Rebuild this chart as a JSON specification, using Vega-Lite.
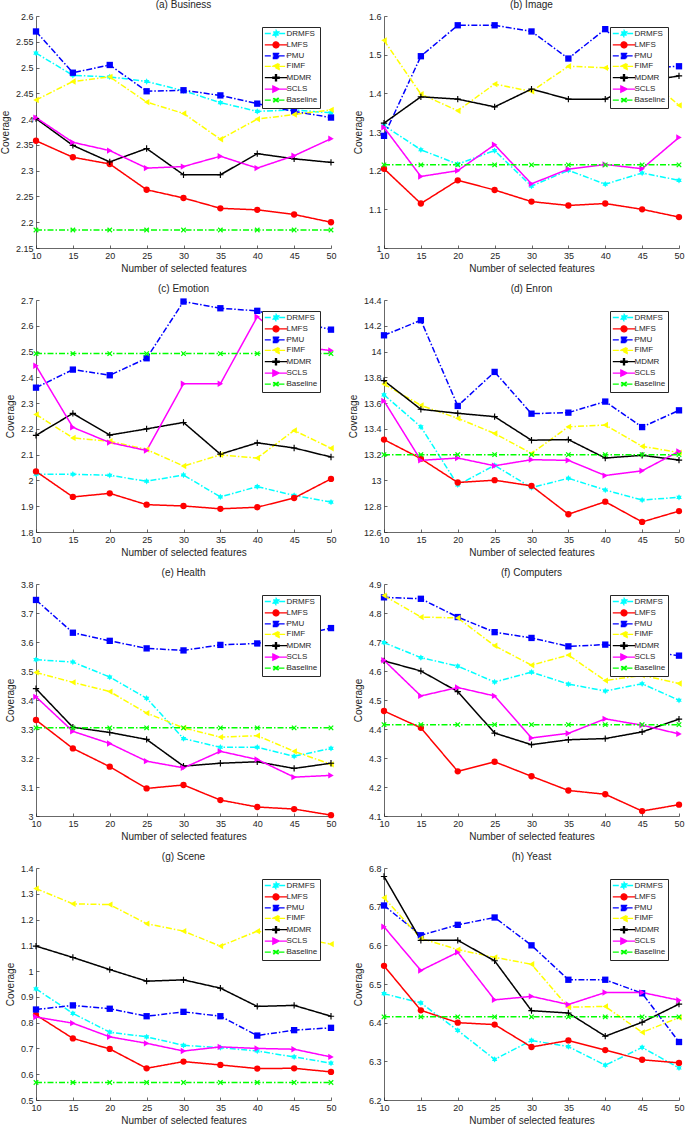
{
"$schema": "https://vega.github.io/schema/vega-lite/v6.json",
"padding": {"left": 0, "top": 0, "right": 0, "bottom": 0},
"config": {
 "font": "Liberation Sans",
 "view": {"stroke": null},
 "axis": {"grid": false, "labelFontSize": 9, "labelColor": "#262626", "titleFontSize": 10, "titleFontWeight": "normal", "titleColor": "#262626", "domainColor": "#262626", "tickColor": "#262626", "tickSize": -3, "labelPadding": 6, "domainWidth": 0.7, "tickWidth": 0.7, "labelFlush": false, "labelOverlap": false},
 "axisY": {"titlePadding": 5},
 "axisX": {"titlePadding": 3},
 "title": {"fontSize": 10, "fontWeight": "normal", "color": "#262626", "offset": 2},
 "legend": {"orient": "top-right", "offset": 11, "fillColor": "white", "strokeColor": "#262626", "padding": 2, "labelFontSize": 8, "labelColor": "#262626", "symbolSize": 49, "symbolOffset": 7.5, "labelOffset": 6, "rowPadding": -1.6, "symbolStrokeWidth": 1.3}
},
"datasets": {
"a": [
{"m":"DRMFS","x":10,"y":2.528},{"m":"DRMFS","x":15,"y":2.485},{"m":"DRMFS","x":20,"y":2.482},{"m":"DRMFS","x":25,"y":2.473},{"m":"DRMFS","x":30,"y":2.455},{"m":"DRMFS","x":35,"y":2.432},{"m":"DRMFS","x":40,"y":2.415},{"m":"DRMFS","x":45,"y":2.418},{"m":"DRMFS","x":50,"y":2.412},
{"m":"LMFS","x":10,"y":2.358},{"m":"LMFS","x":15,"y":2.326},{"m":"LMFS","x":20,"y":2.313},{"m":"LMFS","x":25,"y":2.263},{"m":"LMFS","x":30,"y":2.247},{"m":"LMFS","x":35,"y":2.227},{"m":"LMFS","x":40,"y":2.224},{"m":"LMFS","x":45,"y":2.215},{"m":"LMFS","x":50,"y":2.2},
{"m":"PMU","x":10,"y":2.57},{"m":"PMU","x":15,"y":2.49},{"m":"PMU","x":20,"y":2.505},{"m":"PMU","x":25,"y":2.454},{"m":"PMU","x":30,"y":2.456},{"m":"PMU","x":35,"y":2.446},{"m":"PMU","x":40,"y":2.43},{"m":"PMU","x":45,"y":2.415},{"m":"PMU","x":50,"y":2.403},
{"m":"FIMF","x":10,"y":2.437},{"m":"FIMF","x":15,"y":2.473},{"m":"FIMF","x":20,"y":2.482},{"m":"FIMF","x":25,"y":2.433},{"m":"FIMF","x":30,"y":2.411},{"m":"FIMF","x":35,"y":2.361},{"m":"FIMF","x":40,"y":2.4},{"m":"FIMF","x":45,"y":2.409},{"m":"FIMF","x":50,"y":2.418},
{"m":"MDMR","x":10,"y":2.401},{"m":"MDMR","x":15,"y":2.349},{"m":"MDMR","x":20,"y":2.317},{"m":"MDMR","x":25,"y":2.343},{"m":"MDMR","x":30,"y":2.292},{"m":"MDMR","x":35,"y":2.292},{"m":"MDMR","x":40,"y":2.333},{"m":"MDMR","x":45,"y":2.323},{"m":"MDMR","x":50,"y":2.316},
{"m":"SCLS","x":10,"y":2.403},{"m":"SCLS","x":15,"y":2.355},{"m":"SCLS","x":20,"y":2.339},{"m":"SCLS","x":25,"y":2.305},{"m":"SCLS","x":30,"y":2.308},{"m":"SCLS","x":35,"y":2.328},{"m":"SCLS","x":40,"y":2.305},{"m":"SCLS","x":45,"y":2.329},{"m":"SCLS","x":50,"y":2.362},
{"m":"Baseline","x":10,"y":2.185},{"m":"Baseline","x":15,"y":2.185},{"m":"Baseline","x":20,"y":2.185},{"m":"Baseline","x":25,"y":2.185},{"m":"Baseline","x":30,"y":2.185},{"m":"Baseline","x":35,"y":2.185},{"m":"Baseline","x":40,"y":2.185},{"m":"Baseline","x":45,"y":2.185},{"m":"Baseline","x":50,"y":2.185}
],
"b": [
{"m":"DRMFS","x":10,"y":1.317},{"m":"DRMFS","x":15,"y":1.254},{"m":"DRMFS","x":20,"y":1.217},{"m":"DRMFS","x":25,"y":1.252},{"m":"DRMFS","x":30,"y":1.16},{"m":"DRMFS","x":35,"y":1.201},{"m":"DRMFS","x":40,"y":1.165},{"m":"DRMFS","x":45,"y":1.194},{"m":"DRMFS","x":50,"y":1.175},
{"m":"LMFS","x":10,"y":1.205},{"m":"LMFS","x":15,"y":1.115},{"m":"LMFS","x":20,"y":1.175},{"m":"LMFS","x":25,"y":1.15},{"m":"LMFS","x":30,"y":1.12},{"m":"LMFS","x":35,"y":1.11},{"m":"LMFS","x":40,"y":1.115},{"m":"LMFS","x":45,"y":1.1},{"m":"LMFS","x":50,"y":1.08},
{"m":"PMU","x":10,"y":1.29},{"m":"PMU","x":15,"y":1.496},{"m":"PMU","x":20,"y":1.576},{"m":"PMU","x":25,"y":1.576},{"m":"PMU","x":30,"y":1.56},{"m":"PMU","x":35,"y":1.49},{"m":"PMU","x":40,"y":1.566},{"m":"PMU","x":45,"y":1.465},{"m":"PMU","x":50,"y":1.47},
{"m":"FIMF","x":10,"y":1.537},{"m":"FIMF","x":15,"y":1.398},{"m":"FIMF","x":20,"y":1.355},{"m":"FIMF","x":25,"y":1.424},{"m":"FIMF","x":30,"y":1.405},{"m":"FIMF","x":35,"y":1.47},{"m":"FIMF","x":40,"y":1.466},{"m":"FIMF","x":45,"y":1.45},{"m":"FIMF","x":50,"y":1.369},
{"m":"MDMR","x":10,"y":1.323},{"m":"MDMR","x":15,"y":1.391},{"m":"MDMR","x":20,"y":1.385},{"m":"MDMR","x":25,"y":1.365},{"m":"MDMR","x":30,"y":1.411},{"m":"MDMR","x":35,"y":1.385},{"m":"MDMR","x":40,"y":1.385},{"m":"MDMR","x":45,"y":1.43},{"m":"MDMR","x":50,"y":1.445},
{"m":"SCLS","x":10,"y":1.312},{"m":"SCLS","x":15,"y":1.185},{"m":"SCLS","x":20,"y":1.2},{"m":"SCLS","x":25,"y":1.267},{"m":"SCLS","x":30,"y":1.166},{"m":"SCLS","x":35,"y":1.204},{"m":"SCLS","x":40,"y":1.216},{"m":"SCLS","x":45,"y":1.205},{"m":"SCLS","x":50,"y":1.286},
{"m":"Baseline","x":10,"y":1.215},{"m":"Baseline","x":15,"y":1.215},{"m":"Baseline","x":20,"y":1.215},{"m":"Baseline","x":25,"y":1.215},{"m":"Baseline","x":30,"y":1.215},{"m":"Baseline","x":35,"y":1.215},{"m":"Baseline","x":40,"y":1.215},{"m":"Baseline","x":45,"y":1.215},{"m":"Baseline","x":50,"y":1.215}
],
"c": [
{"m":"DRMFS","x":10,"y":2.024},{"m":"DRMFS","x":15,"y":2.024},{"m":"DRMFS","x":20,"y":2.02},{"m":"DRMFS","x":25,"y":1.997},{"m":"DRMFS","x":30,"y":2.021},{"m":"DRMFS","x":35,"y":1.936},{"m":"DRMFS","x":40,"y":1.976},{"m":"DRMFS","x":45,"y":1.942},{"m":"DRMFS","x":50,"y":1.916},
{"m":"LMFS","x":10,"y":2.035},{"m":"LMFS","x":15,"y":1.936},{"m":"LMFS","x":20,"y":1.95},{"m":"LMFS","x":25,"y":1.906},{"m":"LMFS","x":30,"y":1.901},{"m":"LMFS","x":35,"y":1.89},{"m":"LMFS","x":40,"y":1.896},{"m":"LMFS","x":45,"y":1.932},{"m":"LMFS","x":50,"y":2.006},
{"m":"PMU","x":10,"y":2.36},{"m":"PMU","x":15,"y":2.43},{"m":"PMU","x":20,"y":2.408},{"m":"PMU","x":25,"y":2.474},{"m":"PMU","x":30,"y":2.694},{"m":"PMU","x":35,"y":2.668},{"m":"PMU","x":40,"y":2.658},{"m":"PMU","x":45,"y":2.62},{"m":"PMU","x":50,"y":2.585},
{"m":"FIMF","x":10,"y":2.256},{"m":"FIMF","x":15,"y":2.165},{"m":"FIMF","x":20,"y":2.152},{"m":"FIMF","x":25,"y":2.12},{"m":"FIMF","x":30,"y":2.056},{"m":"FIMF","x":35,"y":2.099},{"m":"FIMF","x":40,"y":2.087},{"m":"FIMF","x":45,"y":2.194},{"m":"FIMF","x":50,"y":2.125},
{"m":"MDMR","x":10,"y":2.175},{"m":"MDMR","x":15,"y":2.26},{"m":"MDMR","x":20,"y":2.176},{"m":"MDMR","x":25,"y":2.2},{"m":"MDMR","x":30,"y":2.225},{"m":"MDMR","x":35,"y":2.102},{"m":"MDMR","x":40,"y":2.146},{"m":"MDMR","x":45,"y":2.126},{"m":"MDMR","x":50,"y":2.091},
{"m":"SCLS","x":10,"y":2.445},{"m":"SCLS","x":15,"y":2.206},{"m":"SCLS","x":20,"y":2.147},{"m":"SCLS","x":25,"y":2.116},{"m":"SCLS","x":30,"y":2.375},{"m":"SCLS","x":35,"y":2.375},{"m":"SCLS","x":40,"y":2.635},{"m":"SCLS","x":45,"y":2.52},{"m":"SCLS","x":50,"y":2.504},
{"m":"Baseline","x":10,"y":2.492},{"m":"Baseline","x":15,"y":2.492},{"m":"Baseline","x":20,"y":2.492},{"m":"Baseline","x":25,"y":2.492},{"m":"Baseline","x":30,"y":2.492},{"m":"Baseline","x":35,"y":2.492},{"m":"Baseline","x":40,"y":2.492},{"m":"Baseline","x":45,"y":2.492},{"m":"Baseline","x":50,"y":2.492}
],
"d": [
{"m":"DRMFS","x":10,"y":13.664},{"m":"DRMFS","x":15,"y":13.416},{"m":"DRMFS","x":20,"y":12.965},{"m":"DRMFS","x":25,"y":13.117},{"m":"DRMFS","x":30,"y":12.944},{"m":"DRMFS","x":35,"y":13.017},{"m":"DRMFS","x":40,"y":12.926},{"m":"DRMFS","x":45,"y":12.848},{"m":"DRMFS","x":50,"y":12.869},
{"m":"LMFS","x":10,"y":13.317},{"m":"LMFS","x":15,"y":13.169},{"m":"LMFS","x":20,"y":12.984},{"m":"LMFS","x":25,"y":13.002},{"m":"LMFS","x":30,"y":12.958},{"m":"LMFS","x":35,"y":12.738},{"m":"LMFS","x":40,"y":12.835},{"m":"LMFS","x":45,"y":12.678},{"m":"LMFS","x":50,"y":12.762},
{"m":"PMU","x":10,"y":14.126},{"m":"PMU","x":15,"y":14.243},{"m":"PMU","x":20,"y":13.578},{"m":"PMU","x":25,"y":13.842},{"m":"PMU","x":30,"y":13.518},{"m":"PMU","x":35,"y":13.526},{"m":"PMU","x":40,"y":13.612},{"m":"PMU","x":45,"y":13.414},{"m":"PMU","x":50,"y":13.544},
{"m":"FIMF","x":10,"y":13.748},{"m":"FIMF","x":15,"y":13.583},{"m":"FIMF","x":20,"y":13.482},{"m":"FIMF","x":25,"y":13.364},{"m":"FIMF","x":30,"y":13.21},{"m":"FIMF","x":35,"y":13.416},{"m":"FIMF","x":40,"y":13.43},{"m":"FIMF","x":45,"y":13.265},{"m":"FIMF","x":50,"y":13.216},
{"m":"MDMR","x":10,"y":13.774},{"m":"MDMR","x":15,"y":13.552},{"m":"MDMR","x":20,"y":13.521},{"m":"MDMR","x":25,"y":13.495},{"m":"MDMR","x":30,"y":13.312},{"m":"MDMR","x":35,"y":13.317},{"m":"MDMR","x":40,"y":13.174},{"m":"MDMR","x":45,"y":13.195},{"m":"MDMR","x":50,"y":13.158},
{"m":"SCLS","x":10,"y":13.617},{"m":"SCLS","x":15,"y":13.156},{"m":"SCLS","x":20,"y":13.174},{"m":"SCLS","x":25,"y":13.114},{"m":"SCLS","x":30,"y":13.161},{"m":"SCLS","x":35,"y":13.156},{"m":"SCLS","x":40,"y":13.038},{"m":"SCLS","x":45,"y":13.075},{"m":"SCLS","x":50,"y":13.226},
{"m":"Baseline","x":10,"y":13.2},{"m":"Baseline","x":15,"y":13.2},{"m":"Baseline","x":20,"y":13.2},{"m":"Baseline","x":25,"y":13.2},{"m":"Baseline","x":30,"y":13.2},{"m":"Baseline","x":35,"y":13.2},{"m":"Baseline","x":40,"y":13.2},{"m":"Baseline","x":45,"y":13.2},{"m":"Baseline","x":50,"y":13.2}
],
"e": [
{"m":"DRMFS","x":10,"y":3.539},{"m":"DRMFS","x":15,"y":3.531},{"m":"DRMFS","x":20,"y":3.479},{"m":"DRMFS","x":25,"y":3.406},{"m":"DRMFS","x":30,"y":3.267},{"m":"DRMFS","x":35,"y":3.237},{"m":"DRMFS","x":40,"y":3.237},{"m":"DRMFS","x":45,"y":3.206},{"m":"DRMFS","x":50,"y":3.233},
{"m":"LMFS","x":10,"y":3.331},{"m":"LMFS","x":15,"y":3.233},{"m":"LMFS","x":20,"y":3.17},{"m":"LMFS","x":25,"y":3.095},{"m":"LMFS","x":30,"y":3.107},{"m":"LMFS","x":35,"y":3.055},{"m":"LMFS","x":40,"y":3.031},{"m":"LMFS","x":45,"y":3.024},{"m":"LMFS","x":50,"y":3.003},
{"m":"PMU","x":10,"y":3.745},{"m":"PMU","x":15,"y":3.632},{"m":"PMU","x":20,"y":3.604},{"m":"PMU","x":25,"y":3.578},{"m":"PMU","x":30,"y":3.571},{"m":"PMU","x":35,"y":3.59},{"m":"PMU","x":40,"y":3.595},{"m":"PMU","x":45,"y":3.62},{"m":"PMU","x":50,"y":3.648},
{"m":"FIMF","x":10,"y":3.495},{"m":"FIMF","x":15,"y":3.461},{"m":"FIMF","x":20,"y":3.429},{"m":"FIMF","x":25,"y":3.355},{"m":"FIMF","x":30,"y":3.304},{"m":"FIMF","x":35,"y":3.272},{"m":"FIMF","x":40,"y":3.277},{"m":"FIMF","x":45,"y":3.223},{"m":"FIMF","x":50,"y":3.178},
{"m":"MDMR","x":10,"y":3.439},{"m":"MDMR","x":15,"y":3.306},{"m":"MDMR","x":20,"y":3.288},{"m":"MDMR","x":25,"y":3.264},{"m":"MDMR","x":30,"y":3.172},{"m":"MDMR","x":35,"y":3.182},{"m":"MDMR","x":40,"y":3.187},{"m":"MDMR","x":45,"y":3.164},{"m":"MDMR","x":50,"y":3.182},
{"m":"SCLS","x":10,"y":3.411},{"m":"SCLS","x":15,"y":3.292},{"m":"SCLS","x":20,"y":3.25},{"m":"SCLS","x":25,"y":3.189},{"m":"SCLS","x":30,"y":3.166},{"m":"SCLS","x":35,"y":3.223},{"m":"SCLS","x":40,"y":3.195},{"m":"SCLS","x":45,"y":3.134},{"m":"SCLS","x":50,"y":3.14},
{"m":"Baseline","x":10,"y":3.304},{"m":"Baseline","x":15,"y":3.304},{"m":"Baseline","x":20,"y":3.304},{"m":"Baseline","x":25,"y":3.304},{"m":"Baseline","x":30,"y":3.304},{"m":"Baseline","x":35,"y":3.304},{"m":"Baseline","x":40,"y":3.304},{"m":"Baseline","x":45,"y":3.304},{"m":"Baseline","x":50,"y":3.304}
],
"f": [
{"m":"DRMFS","x":10,"y":4.698},{"m":"DRMFS","x":15,"y":4.646},{"m":"DRMFS","x":20,"y":4.617},{"m":"DRMFS","x":25,"y":4.562},{"m":"DRMFS","x":30,"y":4.596},{"m":"DRMFS","x":35,"y":4.555},{"m":"DRMFS","x":40,"y":4.531},{"m":"DRMFS","x":45,"y":4.556},{"m":"DRMFS","x":50,"y":4.499},
{"m":"LMFS","x":10,"y":4.462},{"m":"LMFS","x":15,"y":4.404},{"m":"LMFS","x":20,"y":4.254},{"m":"LMFS","x":25,"y":4.287},{"m":"LMFS","x":30,"y":4.237},{"m":"LMFS","x":35,"y":4.188},{"m":"LMFS","x":40,"y":4.175},{"m":"LMFS","x":45,"y":4.117},{"m":"LMFS","x":50,"y":4.139},
{"m":"PMU","x":10,"y":4.854},{"m":"PMU","x":15,"y":4.849},{"m":"PMU","x":20,"y":4.786},{"m":"PMU","x":25,"y":4.734},{"m":"PMU","x":30,"y":4.714},{"m":"PMU","x":35,"y":4.685},{"m":"PMU","x":40,"y":4.691},{"m":"PMU","x":45,"y":4.67},{"m":"PMU","x":50,"y":4.653},
{"m":"FIMF","x":10,"y":4.86},{"m":"FIMF","x":15,"y":4.786},{"m":"FIMF","x":20,"y":4.783},{"m":"FIMF","x":25,"y":4.687},{"m":"FIMF","x":30,"y":4.62},{"m":"FIMF","x":35,"y":4.655},{"m":"FIMF","x":40,"y":4.567},{"m":"FIMF","x":45,"y":4.585},{"m":"FIMF","x":50,"y":4.557},
{"m":"MDMR","x":10,"y":4.635},{"m":"MDMR","x":15,"y":4.6},{"m":"MDMR","x":20,"y":4.529},{"m":"MDMR","x":25,"y":4.386},{"m":"MDMR","x":30,"y":4.346},{"m":"MDMR","x":35,"y":4.363},{"m":"MDMR","x":40,"y":4.367},{"m":"MDMR","x":45,"y":4.39},{"m":"MDMR","x":50,"y":4.434},
{"m":"SCLS","x":10,"y":4.637},{"m":"SCLS","x":15,"y":4.514},{"m":"SCLS","x":20,"y":4.543},{"m":"SCLS","x":25,"y":4.514},{"m":"SCLS","x":30,"y":4.369},{"m":"SCLS","x":35,"y":4.385},{"m":"SCLS","x":40,"y":4.435},{"m":"SCLS","x":45,"y":4.413},{"m":"SCLS","x":50,"y":4.383},
{"m":"Baseline","x":10,"y":4.415},{"m":"Baseline","x":15,"y":4.415},{"m":"Baseline","x":20,"y":4.415},{"m":"Baseline","x":25,"y":4.415},{"m":"Baseline","x":30,"y":4.415},{"m":"Baseline","x":35,"y":4.415},{"m":"Baseline","x":40,"y":4.415},{"m":"Baseline","x":45,"y":4.415},{"m":"Baseline","x":50,"y":4.415}
],
"g": [
{"m":"DRMFS","x":10,"y":0.931},{"m":"DRMFS","x":15,"y":0.836},{"m":"DRMFS","x":20,"y":0.763},{"m":"DRMFS","x":25,"y":0.745},{"m":"DRMFS","x":30,"y":0.712},{"m":"DRMFS","x":35,"y":0.703},{"m":"DRMFS","x":40,"y":0.69},{"m":"DRMFS","x":45,"y":0.667},{"m":"DRMFS","x":50,"y":0.643},
{"m":"LMFS","x":10,"y":0.83},{"m":"LMFS","x":15,"y":0.739},{"m":"LMFS","x":20,"y":0.698},{"m":"LMFS","x":25,"y":0.623},{"m":"LMFS","x":30,"y":0.649},{"m":"LMFS","x":35,"y":0.636},{"m":"LMFS","x":40,"y":0.622},{"m":"LMFS","x":45,"y":0.623},{"m":"LMFS","x":50,"y":0.609},
{"m":"PMU","x":10,"y":0.851},{"m":"PMU","x":15,"y":0.867},{"m":"PMU","x":20,"y":0.854},{"m":"PMU","x":25,"y":0.825},{"m":"PMU","x":30,"y":0.842},{"m":"PMU","x":35,"y":0.825},{"m":"PMU","x":40,"y":0.75},{"m":"PMU","x":45,"y":0.771},{"m":"PMU","x":50,"y":0.78},
{"m":"FIMF","x":10,"y":1.32},{"m":"FIMF","x":15,"y":1.261},{"m":"FIMF","x":20,"y":1.258},{"m":"FIMF","x":25,"y":1.184},{"m":"FIMF","x":30,"y":1.155},{"m":"FIMF","x":35,"y":1.097},{"m":"FIMF","x":40,"y":1.155},{"m":"FIMF","x":45,"y":1.13},{"m":"FIMF","x":50,"y":1.105},
{"m":"MDMR","x":10,"y":1.097},{"m":"MDMR","x":15,"y":1.053},{"m":"MDMR","x":20,"y":1.006},{"m":"MDMR","x":25,"y":0.961},{"m":"MDMR","x":30,"y":0.966},{"m":"MDMR","x":35,"y":0.934},{"m":"MDMR","x":40,"y":0.863},{"m":"MDMR","x":45,"y":0.867},{"m":"MDMR","x":50,"y":0.825},
{"m":"SCLS","x":10,"y":0.822},{"m":"SCLS","x":15,"y":0.798},{"m":"SCLS","x":20,"y":0.745},{"m":"SCLS","x":25,"y":0.72},{"m":"SCLS","x":30,"y":0.69},{"m":"SCLS","x":35,"y":0.706},{"m":"SCLS","x":40,"y":0.7},{"m":"SCLS","x":45,"y":0.697},{"m":"SCLS","x":50,"y":0.667},
{"m":"Baseline","x":10,"y":0.568},{"m":"Baseline","x":15,"y":0.568},{"m":"Baseline","x":20,"y":0.568},{"m":"Baseline","x":25,"y":0.568},{"m":"Baseline","x":30,"y":0.568},{"m":"Baseline","x":35,"y":0.568},{"m":"Baseline","x":40,"y":0.568},{"m":"Baseline","x":45,"y":0.568},{"m":"Baseline","x":50,"y":0.568}
],
"h": [
{"m":"DRMFS","x":10,"y":6.475},{"m":"DRMFS","x":15,"y":6.451},{"m":"DRMFS","x":20,"y":6.38},{"m":"DRMFS","x":25,"y":6.305},{"m":"DRMFS","x":30,"y":6.354},{"m":"DRMFS","x":35,"y":6.338},{"m":"DRMFS","x":40,"y":6.29},{"m":"DRMFS","x":45,"y":6.336},{"m":"DRMFS","x":50,"y":6.283},
{"m":"LMFS","x":10,"y":6.547},{"m":"LMFS","x":15,"y":6.432},{"m":"LMFS","x":20,"y":6.4},{"m":"LMFS","x":25,"y":6.395},{"m":"LMFS","x":30,"y":6.337},{"m":"LMFS","x":35,"y":6.354},{"m":"LMFS","x":40,"y":6.329},{"m":"LMFS","x":45,"y":6.304},{"m":"LMFS","x":50,"y":6.296},
{"m":"PMU","x":10,"y":6.703},{"m":"PMU","x":15,"y":6.626},{"m":"PMU","x":20,"y":6.653},{"m":"PMU","x":25,"y":6.672},{"m":"PMU","x":30,"y":6.6},{"m":"PMU","x":35,"y":6.511},{"m":"PMU","x":40,"y":6.511},{"m":"PMU","x":45,"y":6.476},{"m":"PMU","x":50,"y":6.35},
{"m":"FIMF","x":10,"y":6.723},{"m":"FIMF","x":15,"y":6.618},{"m":"FIMF","x":20,"y":6.589},{"m":"FIMF","x":25,"y":6.569},{"m":"FIMF","x":30,"y":6.551},{"m":"FIMF","x":35,"y":6.44},{"m":"FIMF","x":40,"y":6.442},{"m":"FIMF","x":45,"y":6.375},{"m":"FIMF","x":50,"y":6.413},
{"m":"MDMR","x":10,"y":6.778},{"m":"MDMR","x":15,"y":6.613},{"m":"MDMR","x":20,"y":6.613},{"m":"MDMR","x":25,"y":6.56},{"m":"MDMR","x":30,"y":6.431},{"m":"MDMR","x":35,"y":6.425},{"m":"MDMR","x":40,"y":6.365},{"m":"MDMR","x":45,"y":6.401},{"m":"MDMR","x":50,"y":6.448},
{"m":"SCLS","x":10,"y":6.648},{"m":"SCLS","x":15,"y":6.535},{"m":"SCLS","x":20,"y":6.582},{"m":"SCLS","x":25,"y":6.459},{"m":"SCLS","x":30,"y":6.468},{"m":"SCLS","x":35,"y":6.447},{"m":"SCLS","x":40,"y":6.478},{"m":"SCLS","x":45,"y":6.478},{"m":"SCLS","x":50,"y":6.458},
{"m":"Baseline","x":10,"y":6.415},{"m":"Baseline","x":15,"y":6.415},{"m":"Baseline","x":20,"y":6.415},{"m":"Baseline","x":25,"y":6.415},{"m":"Baseline","x":30,"y":6.415},{"m":"Baseline","x":35,"y":6.415},{"m":"Baseline","x":40,"y":6.415},{"m":"Baseline","x":45,"y":6.415},{"m":"Baseline","x":50,"y":6.415}
]
},
"columns": 2,
"spacing": {"row": 11, "column": 11},
"resolve": {"scale": {"color": "independent", "shape": "independent", "strokeDash": "independent", "stroke": "independent"}},
"concat": [
{"title": "(a) Business", "width": 295, "height": 232, "data": {"name": "a"},
 "encoding": {"x": {"field": "x", "type": "quantitative", "scale": {"domain": [10, 50], "nice": false}, "axis": {"values": [10,15,20,25,30,35,40,45,50], "title": "Number of selected features"}},
  "y": {"field": "y", "type": "quantitative", "scale": {"domain": [2.15, 2.6], "nice": false, "zero": false}, "axis": {"values": [2.15,2.2,2.25,2.3,2.35,2.4,2.45,2.5,2.55,2.6], "format": "~g", "title": "Coverage"}}},
 "resolve": {"scale": {"color": "independent", "shape": "independent", "strokeDash": "independent", "stroke": "independent"}},
 "layer": [
  {"mark": {"type": "line", "strokeWidth": 1.5}, "encoding": {"color": {"field": "m", "type": "nominal", "scale": {"domain": ["DRMFS","LMFS","PMU","FIMF","MDMR","SCLS","Baseline"], "range": ["#00ffff","#ff0000","#0000ff","#ffff00","#000000","#ff00ff","#00ff00"]}, "legend": null}, "strokeDash": {"field": "m", "type": "nominal", "scale": {"domain": ["DRMFS","LMFS","PMU","FIMF","MDMR","SCLS","Baseline"], "range": [[6,2,1.5,2],[1,0],[6,2,1.5,2],[6,2,1.5,2],[1,0],[1,0],[6,2,1.5,2]]}, "legend": null}}},
  {"mark": {"type": "point", "filled": true, "opacity": 1, "size": 40}, "encoding": {"color": {"field": "m", "type": "nominal", "scale": {"domain": ["DRMFS","LMFS","PMU","FIMF","MDMR","SCLS","Baseline"], "range": ["#00ffff","#ff0000","#0000ff","#ffff00","#000000","#ff00ff","#00ff00"]}, "legend": null}, "shape": {"field": "m", "type": "nominal", "scale": {"domain": ["DRMFS","LMFS","PMU","FIMF","MDMR","SCLS","Baseline"], "range": ["M0,-1L0.29,-0.5L0.87,-0.5L0.58,0L0.87,0.5L0.29,0.5L0,1L-0.29,0.5L-0.87,0.5L-0.58,0L-0.87,-0.5L-0.29,-0.5Z","circle","square","triangle-left","M-0.18,-1H0.18V-0.18H1V0.18H0.18V1H-0.18V0.18H-1V-0.18H-0.18Z","triangle-right","M0.57,-0.85L0.85,-0.57L0.28,0L0.85,0.57L0.57,0.85L0,0.28L-0.57,0.85L-0.85,0.57L-0.28,0L-0.85,-0.57L-0.57,-0.85L0,-0.28Z"]}, "legend": null}}},
  {"transform": [{"filter": "false"}], "mark": {"type": "point", "filled": true, "opacity": 1}, "encoding": {"color": {"field": "m", "type": "nominal", "scale": {"domain": ["DRMFS","LMFS","PMU","FIMF","MDMR","SCLS","Baseline"], "range": ["#00ffff","#ff0000","#0000ff","#ffff00","#000000","#ff00ff","#00ff00"]}, "legend": {"title": null}}, "stroke": {"field": "m", "type": "nominal", "scale": {"domain": ["DRMFS","LMFS","PMU","FIMF","MDMR","SCLS","Baseline"], "range": ["#00ffff","#ff0000","#0000ff","#ffff00","#000000","#ff00ff","#00ff00"]}, "legend": {"title": null}}, "strokeDash": {"field": "m", "type": "nominal", "scale": {"domain": ["DRMFS","LMFS","PMU","FIMF","MDMR","SCLS","Baseline"], "range": [[6,2,1.5,2],[1,0],[6,2,1.5,2],[6,2,1.5,2],[1,0],[1,0],[6,2,1.5,2]]}, "legend": {"title": null}}, "shape": {"field": "m", "type": "nominal", "scale": {"domain": ["DRMFS","LMFS","PMU","FIMF","MDMR","SCLS","Baseline"], "range": ["M-3.2,0H-0.9M0.9,0H3.2M0,-0.95L0.28,-0.48L0.83,-0.48L0.55,0L0.83,0.48L0.28,0.48L0,0.95L-0.28,0.48L-0.83,0.48L-0.55,0L-0.83,-0.48L-0.28,-0.48Z","M-3.2,0H-0.85M0.85,0H3.2M0.85,0A0.85,0.85 0 1,1 -0.85,0A0.85,0.85 0 1,1 0.85,0Z","M-3.2,0H-0.75M0.75,0H3.2M-0.75,-0.75H0.75V0.75H-0.75Z","M-3.2,0H-0.9M0.9,0H3.2M-0.9,0L0.9,-0.9L0.9,0.9Z","M-3.2,0H-0.9M0.9,0H3.2M-0.15,-0.9H0.15V-0.15H0.9V0.15H0.15V0.9H-0.15V0.15H-0.9V-0.15H-0.15Z","M-3.2,0H-0.9M0.9,0H3.2M0.9,0L-0.9,-0.9L-0.9,0.9Z","M-3.2,0H-0.7M0.7,0H3.2M0.46,-0.68L0.68,-0.46L0.22,0L0.68,0.46L0.46,0.68L0,0.22L-0.46,0.68L-0.68,0.46L-0.22,0L-0.68,-0.46L-0.46,-0.68L0,-0.22Z"]}, "legend": {"title": null}}}}
 ]},
{"title": "(b) Image", "width": 295, "height": 232, "data": {"name": "b"},
 "encoding": {"x": {"field": "x", "type": "quantitative", "scale": {"domain": [10, 50], "nice": false}, "axis": {"values": [10,15,20,25,30,35,40,45,50], "title": "Number of selected features"}},
  "y": {"field": "y", "type": "quantitative", "scale": {"domain": [1, 1.6], "nice": false, "zero": false}, "axis": {"values": [1,1.1,1.2,1.3,1.4,1.5,1.6], "format": "~g", "title": "Coverage"}}},
 "resolve": {"scale": {"color": "independent", "shape": "independent", "strokeDash": "independent", "stroke": "independent"}},
 "layer": [
  {"mark": {"type": "line", "strokeWidth": 1.5}, "encoding": {"color": {"field": "m", "type": "nominal", "scale": {"domain": ["DRMFS","LMFS","PMU","FIMF","MDMR","SCLS","Baseline"], "range": ["#00ffff","#ff0000","#0000ff","#ffff00","#000000","#ff00ff","#00ff00"]}, "legend": null}, "strokeDash": {"field": "m", "type": "nominal", "scale": {"domain": ["DRMFS","LMFS","PMU","FIMF","MDMR","SCLS","Baseline"], "range": [[6,2,1.5,2],[1,0],[6,2,1.5,2],[6,2,1.5,2],[1,0],[1,0],[6,2,1.5,2]]}, "legend": null}}},
  {"mark": {"type": "point", "filled": true, "opacity": 1, "size": 40}, "encoding": {"color": {"field": "m", "type": "nominal", "scale": {"domain": ["DRMFS","LMFS","PMU","FIMF","MDMR","SCLS","Baseline"], "range": ["#00ffff","#ff0000","#0000ff","#ffff00","#000000","#ff00ff","#00ff00"]}, "legend": null}, "shape": {"field": "m", "type": "nominal", "scale": {"domain": ["DRMFS","LMFS","PMU","FIMF","MDMR","SCLS","Baseline"], "range": ["M0,-1L0.29,-0.5L0.87,-0.5L0.58,0L0.87,0.5L0.29,0.5L0,1L-0.29,0.5L-0.87,0.5L-0.58,0L-0.87,-0.5L-0.29,-0.5Z","circle","square","triangle-left","M-0.18,-1H0.18V-0.18H1V0.18H0.18V1H-0.18V0.18H-1V-0.18H-0.18Z","triangle-right","M0.57,-0.85L0.85,-0.57L0.28,0L0.85,0.57L0.57,0.85L0,0.28L-0.57,0.85L-0.85,0.57L-0.28,0L-0.85,-0.57L-0.57,-0.85L0,-0.28Z"]}, "legend": null}}},
  {"transform": [{"filter": "false"}], "mark": {"type": "point", "filled": true, "opacity": 1}, "encoding": {"color": {"field": "m", "type": "nominal", "scale": {"domain": ["DRMFS","LMFS","PMU","FIMF","MDMR","SCLS","Baseline"], "range": ["#00ffff","#ff0000","#0000ff","#ffff00","#000000","#ff00ff","#00ff00"]}, "legend": {"title": null}}, "stroke": {"field": "m", "type": "nominal", "scale": {"domain": ["DRMFS","LMFS","PMU","FIMF","MDMR","SCLS","Baseline"], "range": ["#00ffff","#ff0000","#0000ff","#ffff00","#000000","#ff00ff","#00ff00"]}, "legend": {"title": null}}, "strokeDash": {"field": "m", "type": "nominal", "scale": {"domain": ["DRMFS","LMFS","PMU","FIMF","MDMR","SCLS","Baseline"], "range": [[6,2,1.5,2],[1,0],[6,2,1.5,2],[6,2,1.5,2],[1,0],[1,0],[6,2,1.5,2]]}, "legend": {"title": null}}, "shape": {"field": "m", "type": "nominal", "scale": {"domain": ["DRMFS","LMFS","PMU","FIMF","MDMR","SCLS","Baseline"], "range": ["M-3.2,0H-0.9M0.9,0H3.2M0,-0.95L0.28,-0.48L0.83,-0.48L0.55,0L0.83,0.48L0.28,0.48L0,0.95L-0.28,0.48L-0.83,0.48L-0.55,0L-0.83,-0.48L-0.28,-0.48Z","M-3.2,0H-0.85M0.85,0H3.2M0.85,0A0.85,0.85 0 1,1 -0.85,0A0.85,0.85 0 1,1 0.85,0Z","M-3.2,0H-0.75M0.75,0H3.2M-0.75,-0.75H0.75V0.75H-0.75Z","M-3.2,0H-0.9M0.9,0H3.2M-0.9,0L0.9,-0.9L0.9,0.9Z","M-3.2,0H-0.9M0.9,0H3.2M-0.15,-0.9H0.15V-0.15H0.9V0.15H0.15V0.9H-0.15V0.15H-0.9V-0.15H-0.15Z","M-3.2,0H-0.9M0.9,0H3.2M0.9,0L-0.9,-0.9L-0.9,0.9Z","M-3.2,0H-0.7M0.7,0H3.2M0.46,-0.68L0.68,-0.46L0.22,0L0.68,0.46L0.46,0.68L0,0.22L-0.46,0.68L-0.68,0.46L-0.22,0L-0.68,-0.46L-0.46,-0.68L0,-0.22Z"]}, "legend": {"title": null}}}}
 ]},
{"title": "(c) Emotion", "width": 295, "height": 232, "data": {"name": "c"},
 "encoding": {"x": {"field": "x", "type": "quantitative", "scale": {"domain": [10, 50], "nice": false}, "axis": {"values": [10,15,20,25,30,35,40,45,50], "title": "Number of selected features"}},
  "y": {"field": "y", "type": "quantitative", "scale": {"domain": [1.8, 2.7], "nice": false, "zero": false}, "axis": {"values": [1.8,1.9,2,2.1,2.2,2.3,2.4,2.5,2.6,2.7], "format": "~g", "title": "Coverage"}}},
 "resolve": {"scale": {"color": "independent", "shape": "independent", "strokeDash": "independent", "stroke": "independent"}},
 "layer": [
  {"mark": {"type": "line", "strokeWidth": 1.5}, "encoding": {"color": {"field": "m", "type": "nominal", "scale": {"domain": ["DRMFS","LMFS","PMU","FIMF","MDMR","SCLS","Baseline"], "range": ["#00ffff","#ff0000","#0000ff","#ffff00","#000000","#ff00ff","#00ff00"]}, "legend": null}, "strokeDash": {"field": "m", "type": "nominal", "scale": {"domain": ["DRMFS","LMFS","PMU","FIMF","MDMR","SCLS","Baseline"], "range": [[6,2,1.5,2],[1,0],[6,2,1.5,2],[6,2,1.5,2],[1,0],[1,0],[6,2,1.5,2]]}, "legend": null}}},
  {"mark": {"type": "point", "filled": true, "opacity": 1, "size": 40}, "encoding": {"color": {"field": "m", "type": "nominal", "scale": {"domain": ["DRMFS","LMFS","PMU","FIMF","MDMR","SCLS","Baseline"], "range": ["#00ffff","#ff0000","#0000ff","#ffff00","#000000","#ff00ff","#00ff00"]}, "legend": null}, "shape": {"field": "m", "type": "nominal", "scale": {"domain": ["DRMFS","LMFS","PMU","FIMF","MDMR","SCLS","Baseline"], "range": ["M0,-1L0.29,-0.5L0.87,-0.5L0.58,0L0.87,0.5L0.29,0.5L0,1L-0.29,0.5L-0.87,0.5L-0.58,0L-0.87,-0.5L-0.29,-0.5Z","circle","square","triangle-left","M-0.18,-1H0.18V-0.18H1V0.18H0.18V1H-0.18V0.18H-1V-0.18H-0.18Z","triangle-right","M0.57,-0.85L0.85,-0.57L0.28,0L0.85,0.57L0.57,0.85L0,0.28L-0.57,0.85L-0.85,0.57L-0.28,0L-0.85,-0.57L-0.57,-0.85L0,-0.28Z"]}, "legend": null}}},
  {"transform": [{"filter": "false"}], "mark": {"type": "point", "filled": true, "opacity": 1}, "encoding": {"color": {"field": "m", "type": "nominal", "scale": {"domain": ["DRMFS","LMFS","PMU","FIMF","MDMR","SCLS","Baseline"], "range": ["#00ffff","#ff0000","#0000ff","#ffff00","#000000","#ff00ff","#00ff00"]}, "legend": {"title": null}}, "stroke": {"field": "m", "type": "nominal", "scale": {"domain": ["DRMFS","LMFS","PMU","FIMF","MDMR","SCLS","Baseline"], "range": ["#00ffff","#ff0000","#0000ff","#ffff00","#000000","#ff00ff","#00ff00"]}, "legend": {"title": null}}, "strokeDash": {"field": "m", "type": "nominal", "scale": {"domain": ["DRMFS","LMFS","PMU","FIMF","MDMR","SCLS","Baseline"], "range": [[6,2,1.5,2],[1,0],[6,2,1.5,2],[6,2,1.5,2],[1,0],[1,0],[6,2,1.5,2]]}, "legend": {"title": null}}, "shape": {"field": "m", "type": "nominal", "scale": {"domain": ["DRMFS","LMFS","PMU","FIMF","MDMR","SCLS","Baseline"], "range": ["M-3.2,0H-0.9M0.9,0H3.2M0,-0.95L0.28,-0.48L0.83,-0.48L0.55,0L0.83,0.48L0.28,0.48L0,0.95L-0.28,0.48L-0.83,0.48L-0.55,0L-0.83,-0.48L-0.28,-0.48Z","M-3.2,0H-0.85M0.85,0H3.2M0.85,0A0.85,0.85 0 1,1 -0.85,0A0.85,0.85 0 1,1 0.85,0Z","M-3.2,0H-0.75M0.75,0H3.2M-0.75,-0.75H0.75V0.75H-0.75Z","M-3.2,0H-0.9M0.9,0H3.2M-0.9,0L0.9,-0.9L0.9,0.9Z","M-3.2,0H-0.9M0.9,0H3.2M-0.15,-0.9H0.15V-0.15H0.9V0.15H0.15V0.9H-0.15V0.15H-0.9V-0.15H-0.15Z","M-3.2,0H-0.9M0.9,0H3.2M0.9,0L-0.9,-0.9L-0.9,0.9Z","M-3.2,0H-0.7M0.7,0H3.2M0.46,-0.68L0.68,-0.46L0.22,0L0.68,0.46L0.46,0.68L0,0.22L-0.46,0.68L-0.68,0.46L-0.22,0L-0.68,-0.46L-0.46,-0.68L0,-0.22Z"]}, "legend": {"title": null}}}}
 ]},
{"title": "(d) Enron", "width": 295, "height": 232, "data": {"name": "d"},
 "encoding": {"x": {"field": "x", "type": "quantitative", "scale": {"domain": [10, 50], "nice": false}, "axis": {"values": [10,15,20,25,30,35,40,45,50], "title": "Number of selected features"}},
  "y": {"field": "y", "type": "quantitative", "scale": {"domain": [12.6, 14.4], "nice": false, "zero": false}, "axis": {"values": [12.6,12.8,13,13.2,13.4,13.6,13.8,14,14.2,14.4], "format": "~g", "title": "Coverage"}}},
 "resolve": {"scale": {"color": "independent", "shape": "independent", "strokeDash": "independent", "stroke": "independent"}},
 "layer": [
  {"mark": {"type": "line", "strokeWidth": 1.5}, "encoding": {"color": {"field": "m", "type": "nominal", "scale": {"domain": ["DRMFS","LMFS","PMU","FIMF","MDMR","SCLS","Baseline"], "range": ["#00ffff","#ff0000","#0000ff","#ffff00","#000000","#ff00ff","#00ff00"]}, "legend": null}, "strokeDash": {"field": "m", "type": "nominal", "scale": {"domain": ["DRMFS","LMFS","PMU","FIMF","MDMR","SCLS","Baseline"], "range": [[6,2,1.5,2],[1,0],[6,2,1.5,2],[6,2,1.5,2],[1,0],[1,0],[6,2,1.5,2]]}, "legend": null}}},
  {"mark": {"type": "point", "filled": true, "opacity": 1, "size": 40}, "encoding": {"color": {"field": "m", "type": "nominal", "scale": {"domain": ["DRMFS","LMFS","PMU","FIMF","MDMR","SCLS","Baseline"], "range": ["#00ffff","#ff0000","#0000ff","#ffff00","#000000","#ff00ff","#00ff00"]}, "legend": null}, "shape": {"field": "m", "type": "nominal", "scale": {"domain": ["DRMFS","LMFS","PMU","FIMF","MDMR","SCLS","Baseline"], "range": ["M0,-1L0.29,-0.5L0.87,-0.5L0.58,0L0.87,0.5L0.29,0.5L0,1L-0.29,0.5L-0.87,0.5L-0.58,0L-0.87,-0.5L-0.29,-0.5Z","circle","square","triangle-left","M-0.18,-1H0.18V-0.18H1V0.18H0.18V1H-0.18V0.18H-1V-0.18H-0.18Z","triangle-right","M0.57,-0.85L0.85,-0.57L0.28,0L0.85,0.57L0.57,0.85L0,0.28L-0.57,0.85L-0.85,0.57L-0.28,0L-0.85,-0.57L-0.57,-0.85L0,-0.28Z"]}, "legend": null}}},
  {"transform": [{"filter": "false"}], "mark": {"type": "point", "filled": true, "opacity": 1}, "encoding": {"color": {"field": "m", "type": "nominal", "scale": {"domain": ["DRMFS","LMFS","PMU","FIMF","MDMR","SCLS","Baseline"], "range": ["#00ffff","#ff0000","#0000ff","#ffff00","#000000","#ff00ff","#00ff00"]}, "legend": {"title": null}}, "stroke": {"field": "m", "type": "nominal", "scale": {"domain": ["DRMFS","LMFS","PMU","FIMF","MDMR","SCLS","Baseline"], "range": ["#00ffff","#ff0000","#0000ff","#ffff00","#000000","#ff00ff","#00ff00"]}, "legend": {"title": null}}, "strokeDash": {"field": "m", "type": "nominal", "scale": {"domain": ["DRMFS","LMFS","PMU","FIMF","MDMR","SCLS","Baseline"], "range": [[6,2,1.5,2],[1,0],[6,2,1.5,2],[6,2,1.5,2],[1,0],[1,0],[6,2,1.5,2]]}, "legend": {"title": null}}, "shape": {"field": "m", "type": "nominal", "scale": {"domain": ["DRMFS","LMFS","PMU","FIMF","MDMR","SCLS","Baseline"], "range": ["M-3.2,0H-0.9M0.9,0H3.2M0,-0.95L0.28,-0.48L0.83,-0.48L0.55,0L0.83,0.48L0.28,0.48L0,0.95L-0.28,0.48L-0.83,0.48L-0.55,0L-0.83,-0.48L-0.28,-0.48Z","M-3.2,0H-0.85M0.85,0H3.2M0.85,0A0.85,0.85 0 1,1 -0.85,0A0.85,0.85 0 1,1 0.85,0Z","M-3.2,0H-0.75M0.75,0H3.2M-0.75,-0.75H0.75V0.75H-0.75Z","M-3.2,0H-0.9M0.9,0H3.2M-0.9,0L0.9,-0.9L0.9,0.9Z","M-3.2,0H-0.9M0.9,0H3.2M-0.15,-0.9H0.15V-0.15H0.9V0.15H0.15V0.9H-0.15V0.15H-0.9V-0.15H-0.15Z","M-3.2,0H-0.9M0.9,0H3.2M0.9,0L-0.9,-0.9L-0.9,0.9Z","M-3.2,0H-0.7M0.7,0H3.2M0.46,-0.68L0.68,-0.46L0.22,0L0.68,0.46L0.46,0.68L0,0.22L-0.46,0.68L-0.68,0.46L-0.22,0L-0.68,-0.46L-0.46,-0.68L0,-0.22Z"]}, "legend": {"title": null}}}}
 ]},
{"title": "(e) Health", "width": 295, "height": 232, "data": {"name": "e"},
 "encoding": {"x": {"field": "x", "type": "quantitative", "scale": {"domain": [10, 50], "nice": false}, "axis": {"values": [10,15,20,25,30,35,40,45,50], "title": "Number of selected features"}},
  "y": {"field": "y", "type": "quantitative", "scale": {"domain": [3, 3.8], "nice": false, "zero": false}, "axis": {"values": [3,3.1,3.2,3.3,3.4,3.5,3.6,3.7,3.8], "format": "~g", "title": "Coverage"}}},
 "resolve": {"scale": {"color": "independent", "shape": "independent", "strokeDash": "independent", "stroke": "independent"}},
 "layer": [
  {"mark": {"type": "line", "strokeWidth": 1.5}, "encoding": {"color": {"field": "m", "type": "nominal", "scale": {"domain": ["DRMFS","LMFS","PMU","FIMF","MDMR","SCLS","Baseline"], "range": ["#00ffff","#ff0000","#0000ff","#ffff00","#000000","#ff00ff","#00ff00"]}, "legend": null}, "strokeDash": {"field": "m", "type": "nominal", "scale": {"domain": ["DRMFS","LMFS","PMU","FIMF","MDMR","SCLS","Baseline"], "range": [[6,2,1.5,2],[1,0],[6,2,1.5,2],[6,2,1.5,2],[1,0],[1,0],[6,2,1.5,2]]}, "legend": null}}},
  {"mark": {"type": "point", "filled": true, "opacity": 1, "size": 40}, "encoding": {"color": {"field": "m", "type": "nominal", "scale": {"domain": ["DRMFS","LMFS","PMU","FIMF","MDMR","SCLS","Baseline"], "range": ["#00ffff","#ff0000","#0000ff","#ffff00","#000000","#ff00ff","#00ff00"]}, "legend": null}, "shape": {"field": "m", "type": "nominal", "scale": {"domain": ["DRMFS","LMFS","PMU","FIMF","MDMR","SCLS","Baseline"], "range": ["M0,-1L0.29,-0.5L0.87,-0.5L0.58,0L0.87,0.5L0.29,0.5L0,1L-0.29,0.5L-0.87,0.5L-0.58,0L-0.87,-0.5L-0.29,-0.5Z","circle","square","triangle-left","M-0.18,-1H0.18V-0.18H1V0.18H0.18V1H-0.18V0.18H-1V-0.18H-0.18Z","triangle-right","M0.57,-0.85L0.85,-0.57L0.28,0L0.85,0.57L0.57,0.85L0,0.28L-0.57,0.85L-0.85,0.57L-0.28,0L-0.85,-0.57L-0.57,-0.85L0,-0.28Z"]}, "legend": null}}},
  {"transform": [{"filter": "false"}], "mark": {"type": "point", "filled": true, "opacity": 1}, "encoding": {"color": {"field": "m", "type": "nominal", "scale": {"domain": ["DRMFS","LMFS","PMU","FIMF","MDMR","SCLS","Baseline"], "range": ["#00ffff","#ff0000","#0000ff","#ffff00","#000000","#ff00ff","#00ff00"]}, "legend": {"title": null}}, "stroke": {"field": "m", "type": "nominal", "scale": {"domain": ["DRMFS","LMFS","PMU","FIMF","MDMR","SCLS","Baseline"], "range": ["#00ffff","#ff0000","#0000ff","#ffff00","#000000","#ff00ff","#00ff00"]}, "legend": {"title": null}}, "strokeDash": {"field": "m", "type": "nominal", "scale": {"domain": ["DRMFS","LMFS","PMU","FIMF","MDMR","SCLS","Baseline"], "range": [[6,2,1.5,2],[1,0],[6,2,1.5,2],[6,2,1.5,2],[1,0],[1,0],[6,2,1.5,2]]}, "legend": {"title": null}}, "shape": {"field": "m", "type": "nominal", "scale": {"domain": ["DRMFS","LMFS","PMU","FIMF","MDMR","SCLS","Baseline"], "range": ["M-3.2,0H-0.9M0.9,0H3.2M0,-0.95L0.28,-0.48L0.83,-0.48L0.55,0L0.83,0.48L0.28,0.48L0,0.95L-0.28,0.48L-0.83,0.48L-0.55,0L-0.83,-0.48L-0.28,-0.48Z","M-3.2,0H-0.85M0.85,0H3.2M0.85,0A0.85,0.85 0 1,1 -0.85,0A0.85,0.85 0 1,1 0.85,0Z","M-3.2,0H-0.75M0.75,0H3.2M-0.75,-0.75H0.75V0.75H-0.75Z","M-3.2,0H-0.9M0.9,0H3.2M-0.9,0L0.9,-0.9L0.9,0.9Z","M-3.2,0H-0.9M0.9,0H3.2M-0.15,-0.9H0.15V-0.15H0.9V0.15H0.15V0.9H-0.15V0.15H-0.9V-0.15H-0.15Z","M-3.2,0H-0.9M0.9,0H3.2M0.9,0L-0.9,-0.9L-0.9,0.9Z","M-3.2,0H-0.7M0.7,0H3.2M0.46,-0.68L0.68,-0.46L0.22,0L0.68,0.46L0.46,0.68L0,0.22L-0.46,0.68L-0.68,0.46L-0.22,0L-0.68,-0.46L-0.46,-0.68L0,-0.22Z"]}, "legend": {"title": null}}}}
 ]},
{"title": "(f) Computers", "width": 295, "height": 232, "data": {"name": "f"},
 "encoding": {"x": {"field": "x", "type": "quantitative", "scale": {"domain": [10, 50], "nice": false}, "axis": {"values": [10,15,20,25,30,35,40,45,50], "title": "Number of selected features"}},
  "y": {"field": "y", "type": "quantitative", "scale": {"domain": [4.1, 4.9], "nice": false, "zero": false}, "axis": {"values": [4.1,4.2,4.3,4.4,4.5,4.6,4.7,4.8,4.9], "format": "~g", "title": "Coverage"}}},
 "resolve": {"scale": {"color": "independent", "shape": "independent", "strokeDash": "independent", "stroke": "independent"}},
 "layer": [
  {"mark": {"type": "line", "strokeWidth": 1.5}, "encoding": {"color": {"field": "m", "type": "nominal", "scale": {"domain": ["DRMFS","LMFS","PMU","FIMF","MDMR","SCLS","Baseline"], "range": ["#00ffff","#ff0000","#0000ff","#ffff00","#000000","#ff00ff","#00ff00"]}, "legend": null}, "strokeDash": {"field": "m", "type": "nominal", "scale": {"domain": ["DRMFS","LMFS","PMU","FIMF","MDMR","SCLS","Baseline"], "range": [[6,2,1.5,2],[1,0],[6,2,1.5,2],[6,2,1.5,2],[1,0],[1,0],[6,2,1.5,2]]}, "legend": null}}},
  {"mark": {"type": "point", "filled": true, "opacity": 1, "size": 40}, "encoding": {"color": {"field": "m", "type": "nominal", "scale": {"domain": ["DRMFS","LMFS","PMU","FIMF","MDMR","SCLS","Baseline"], "range": ["#00ffff","#ff0000","#0000ff","#ffff00","#000000","#ff00ff","#00ff00"]}, "legend": null}, "shape": {"field": "m", "type": "nominal", "scale": {"domain": ["DRMFS","LMFS","PMU","FIMF","MDMR","SCLS","Baseline"], "range": ["M0,-1L0.29,-0.5L0.87,-0.5L0.58,0L0.87,0.5L0.29,0.5L0,1L-0.29,0.5L-0.87,0.5L-0.58,0L-0.87,-0.5L-0.29,-0.5Z","circle","square","triangle-left","M-0.18,-1H0.18V-0.18H1V0.18H0.18V1H-0.18V0.18H-1V-0.18H-0.18Z","triangle-right","M0.57,-0.85L0.85,-0.57L0.28,0L0.85,0.57L0.57,0.85L0,0.28L-0.57,0.85L-0.85,0.57L-0.28,0L-0.85,-0.57L-0.57,-0.85L0,-0.28Z"]}, "legend": null}}},
  {"transform": [{"filter": "false"}], "mark": {"type": "point", "filled": true, "opacity": 1}, "encoding": {"color": {"field": "m", "type": "nominal", "scale": {"domain": ["DRMFS","LMFS","PMU","FIMF","MDMR","SCLS","Baseline"], "range": ["#00ffff","#ff0000","#0000ff","#ffff00","#000000","#ff00ff","#00ff00"]}, "legend": {"title": null}}, "stroke": {"field": "m", "type": "nominal", "scale": {"domain": ["DRMFS","LMFS","PMU","FIMF","MDMR","SCLS","Baseline"], "range": ["#00ffff","#ff0000","#0000ff","#ffff00","#000000","#ff00ff","#00ff00"]}, "legend": {"title": null}}, "strokeDash": {"field": "m", "type": "nominal", "scale": {"domain": ["DRMFS","LMFS","PMU","FIMF","MDMR","SCLS","Baseline"], "range": [[6,2,1.5,2],[1,0],[6,2,1.5,2],[6,2,1.5,2],[1,0],[1,0],[6,2,1.5,2]]}, "legend": {"title": null}}, "shape": {"field": "m", "type": "nominal", "scale": {"domain": ["DRMFS","LMFS","PMU","FIMF","MDMR","SCLS","Baseline"], "range": ["M-3.2,0H-0.9M0.9,0H3.2M0,-0.95L0.28,-0.48L0.83,-0.48L0.55,0L0.83,0.48L0.28,0.48L0,0.95L-0.28,0.48L-0.83,0.48L-0.55,0L-0.83,-0.48L-0.28,-0.48Z","M-3.2,0H-0.85M0.85,0H3.2M0.85,0A0.85,0.85 0 1,1 -0.85,0A0.85,0.85 0 1,1 0.85,0Z","M-3.2,0H-0.75M0.75,0H3.2M-0.75,-0.75H0.75V0.75H-0.75Z","M-3.2,0H-0.9M0.9,0H3.2M-0.9,0L0.9,-0.9L0.9,0.9Z","M-3.2,0H-0.9M0.9,0H3.2M-0.15,-0.9H0.15V-0.15H0.9V0.15H0.15V0.9H-0.15V0.15H-0.9V-0.15H-0.15Z","M-3.2,0H-0.9M0.9,0H3.2M0.9,0L-0.9,-0.9L-0.9,0.9Z","M-3.2,0H-0.7M0.7,0H3.2M0.46,-0.68L0.68,-0.46L0.22,0L0.68,0.46L0.46,0.68L0,0.22L-0.46,0.68L-0.68,0.46L-0.22,0L-0.68,-0.46L-0.46,-0.68L0,-0.22Z"]}, "legend": {"title": null}}}}
 ]},
{"title": "(g) Scene", "width": 295, "height": 232, "data": {"name": "g"},
 "encoding": {"x": {"field": "x", "type": "quantitative", "scale": {"domain": [10, 50], "nice": false}, "axis": {"values": [10,15,20,25,30,35,40,45,50], "title": "Number of selected features"}},
  "y": {"field": "y", "type": "quantitative", "scale": {"domain": [0.5, 1.4], "nice": false, "zero": false}, "axis": {"values": [0.5,0.6,0.7,0.8,0.9,1,1.1,1.2,1.3,1.4], "format": "~g", "title": "Coverage"}}},
 "resolve": {"scale": {"color": "independent", "shape": "independent", "strokeDash": "independent", "stroke": "independent"}},
 "layer": [
  {"mark": {"type": "line", "strokeWidth": 1.5}, "encoding": {"color": {"field": "m", "type": "nominal", "scale": {"domain": ["DRMFS","LMFS","PMU","FIMF","MDMR","SCLS","Baseline"], "range": ["#00ffff","#ff0000","#0000ff","#ffff00","#000000","#ff00ff","#00ff00"]}, "legend": null}, "strokeDash": {"field": "m", "type": "nominal", "scale": {"domain": ["DRMFS","LMFS","PMU","FIMF","MDMR","SCLS","Baseline"], "range": [[6,2,1.5,2],[1,0],[6,2,1.5,2],[6,2,1.5,2],[1,0],[1,0],[6,2,1.5,2]]}, "legend": null}}},
  {"mark": {"type": "point", "filled": true, "opacity": 1, "size": 40}, "encoding": {"color": {"field": "m", "type": "nominal", "scale": {"domain": ["DRMFS","LMFS","PMU","FIMF","MDMR","SCLS","Baseline"], "range": ["#00ffff","#ff0000","#0000ff","#ffff00","#000000","#ff00ff","#00ff00"]}, "legend": null}, "shape": {"field": "m", "type": "nominal", "scale": {"domain": ["DRMFS","LMFS","PMU","FIMF","MDMR","SCLS","Baseline"], "range": ["M0,-1L0.29,-0.5L0.87,-0.5L0.58,0L0.87,0.5L0.29,0.5L0,1L-0.29,0.5L-0.87,0.5L-0.58,0L-0.87,-0.5L-0.29,-0.5Z","circle","square","triangle-left","M-0.18,-1H0.18V-0.18H1V0.18H0.18V1H-0.18V0.18H-1V-0.18H-0.18Z","triangle-right","M0.57,-0.85L0.85,-0.57L0.28,0L0.85,0.57L0.57,0.85L0,0.28L-0.57,0.85L-0.85,0.57L-0.28,0L-0.85,-0.57L-0.57,-0.85L0,-0.28Z"]}, "legend": null}}},
  {"transform": [{"filter": "false"}], "mark": {"type": "point", "filled": true, "opacity": 1}, "encoding": {"color": {"field": "m", "type": "nominal", "scale": {"domain": ["DRMFS","LMFS","PMU","FIMF","MDMR","SCLS","Baseline"], "range": ["#00ffff","#ff0000","#0000ff","#ffff00","#000000","#ff00ff","#00ff00"]}, "legend": {"title": null}}, "stroke": {"field": "m", "type": "nominal", "scale": {"domain": ["DRMFS","LMFS","PMU","FIMF","MDMR","SCLS","Baseline"], "range": ["#00ffff","#ff0000","#0000ff","#ffff00","#000000","#ff00ff","#00ff00"]}, "legend": {"title": null}}, "strokeDash": {"field": "m", "type": "nominal", "scale": {"domain": ["DRMFS","LMFS","PMU","FIMF","MDMR","SCLS","Baseline"], "range": [[6,2,1.5,2],[1,0],[6,2,1.5,2],[6,2,1.5,2],[1,0],[1,0],[6,2,1.5,2]]}, "legend": {"title": null}}, "shape": {"field": "m", "type": "nominal", "scale": {"domain": ["DRMFS","LMFS","PMU","FIMF","MDMR","SCLS","Baseline"], "range": ["M-3.2,0H-0.9M0.9,0H3.2M0,-0.95L0.28,-0.48L0.83,-0.48L0.55,0L0.83,0.48L0.28,0.48L0,0.95L-0.28,0.48L-0.83,0.48L-0.55,0L-0.83,-0.48L-0.28,-0.48Z","M-3.2,0H-0.85M0.85,0H3.2M0.85,0A0.85,0.85 0 1,1 -0.85,0A0.85,0.85 0 1,1 0.85,0Z","M-3.2,0H-0.75M0.75,0H3.2M-0.75,-0.75H0.75V0.75H-0.75Z","M-3.2,0H-0.9M0.9,0H3.2M-0.9,0L0.9,-0.9L0.9,0.9Z","M-3.2,0H-0.9M0.9,0H3.2M-0.15,-0.9H0.15V-0.15H0.9V0.15H0.15V0.9H-0.15V0.15H-0.9V-0.15H-0.15Z","M-3.2,0H-0.9M0.9,0H3.2M0.9,0L-0.9,-0.9L-0.9,0.9Z","M-3.2,0H-0.7M0.7,0H3.2M0.46,-0.68L0.68,-0.46L0.22,0L0.68,0.46L0.46,0.68L0,0.22L-0.46,0.68L-0.68,0.46L-0.22,0L-0.68,-0.46L-0.46,-0.68L0,-0.22Z"]}, "legend": {"title": null}}}}
 ]},
{"title": "(h) Yeast", "width": 295, "height": 232, "data": {"name": "h"},
 "encoding": {"x": {"field": "x", "type": "quantitative", "scale": {"domain": [10, 50], "nice": false}, "axis": {"values": [10,15,20,25,30,35,40,45,50], "title": "Number of selected features"}},
  "y": {"field": "y", "type": "quantitative", "scale": {"domain": [6.2, 6.8], "nice": false, "zero": false}, "axis": {"values": [6.2,6.3,6.4,6.5,6.6,6.7,6.8], "format": "~g", "title": "Coverage"}}},
 "resolve": {"scale": {"color": "independent", "shape": "independent", "strokeDash": "independent", "stroke": "independent"}},
 "layer": [
  {"mark": {"type": "line", "strokeWidth": 1.5}, "encoding": {"color": {"field": "m", "type": "nominal", "scale": {"domain": ["DRMFS","LMFS","PMU","FIMF","MDMR","SCLS","Baseline"], "range": ["#00ffff","#ff0000","#0000ff","#ffff00","#000000","#ff00ff","#00ff00"]}, "legend": null}, "strokeDash": {"field": "m", "type": "nominal", "scale": {"domain": ["DRMFS","LMFS","PMU","FIMF","MDMR","SCLS","Baseline"], "range": [[6,2,1.5,2],[1,0],[6,2,1.5,2],[6,2,1.5,2],[1,0],[1,0],[6,2,1.5,2]]}, "legend": null}}},
  {"mark": {"type": "point", "filled": true, "opacity": 1, "size": 40}, "encoding": {"color": {"field": "m", "type": "nominal", "scale": {"domain": ["DRMFS","LMFS","PMU","FIMF","MDMR","SCLS","Baseline"], "range": ["#00ffff","#ff0000","#0000ff","#ffff00","#000000","#ff00ff","#00ff00"]}, "legend": null}, "shape": {"field": "m", "type": "nominal", "scale": {"domain": ["DRMFS","LMFS","PMU","FIMF","MDMR","SCLS","Baseline"], "range": ["M0,-1L0.29,-0.5L0.87,-0.5L0.58,0L0.87,0.5L0.29,0.5L0,1L-0.29,0.5L-0.87,0.5L-0.58,0L-0.87,-0.5L-0.29,-0.5Z","circle","square","triangle-left","M-0.18,-1H0.18V-0.18H1V0.18H0.18V1H-0.18V0.18H-1V-0.18H-0.18Z","triangle-right","M0.57,-0.85L0.85,-0.57L0.28,0L0.85,0.57L0.57,0.85L0,0.28L-0.57,0.85L-0.85,0.57L-0.28,0L-0.85,-0.57L-0.57,-0.85L0,-0.28Z"]}, "legend": null}}},
  {"transform": [{"filter": "false"}], "mark": {"type": "point", "filled": true, "opacity": 1}, "encoding": {"color": {"field": "m", "type": "nominal", "scale": {"domain": ["DRMFS","LMFS","PMU","FIMF","MDMR","SCLS","Baseline"], "range": ["#00ffff","#ff0000","#0000ff","#ffff00","#000000","#ff00ff","#00ff00"]}, "legend": {"title": null}}, "stroke": {"field": "m", "type": "nominal", "scale": {"domain": ["DRMFS","LMFS","PMU","FIMF","MDMR","SCLS","Baseline"], "range": ["#00ffff","#ff0000","#0000ff","#ffff00","#000000","#ff00ff","#00ff00"]}, "legend": {"title": null}}, "strokeDash": {"field": "m", "type": "nominal", "scale": {"domain": ["DRMFS","LMFS","PMU","FIMF","MDMR","SCLS","Baseline"], "range": [[6,2,1.5,2],[1,0],[6,2,1.5,2],[6,2,1.5,2],[1,0],[1,0],[6,2,1.5,2]]}, "legend": {"title": null}}, "shape": {"field": "m", "type": "nominal", "scale": {"domain": ["DRMFS","LMFS","PMU","FIMF","MDMR","SCLS","Baseline"], "range": ["M-3.2,0H-0.9M0.9,0H3.2M0,-0.95L0.28,-0.48L0.83,-0.48L0.55,0L0.83,0.48L0.28,0.48L0,0.95L-0.28,0.48L-0.83,0.48L-0.55,0L-0.83,-0.48L-0.28,-0.48Z","M-3.2,0H-0.85M0.85,0H3.2M0.85,0A0.85,0.85 0 1,1 -0.85,0A0.85,0.85 0 1,1 0.85,0Z","M-3.2,0H-0.75M0.75,0H3.2M-0.75,-0.75H0.75V0.75H-0.75Z","M-3.2,0H-0.9M0.9,0H3.2M-0.9,0L0.9,-0.9L0.9,0.9Z","M-3.2,0H-0.9M0.9,0H3.2M-0.15,-0.9H0.15V-0.15H0.9V0.15H0.15V0.9H-0.15V0.15H-0.9V-0.15H-0.15Z","M-3.2,0H-0.9M0.9,0H3.2M0.9,0L-0.9,-0.9L-0.9,0.9Z","M-3.2,0H-0.7M0.7,0H3.2M0.46,-0.68L0.68,-0.46L0.22,0L0.68,0.46L0.46,0.68L0,0.22L-0.46,0.68L-0.68,0.46L-0.22,0L-0.68,-0.46L-0.46,-0.68L0,-0.22Z"]}, "legend": {"title": null}}}}
 ]}
]
}
